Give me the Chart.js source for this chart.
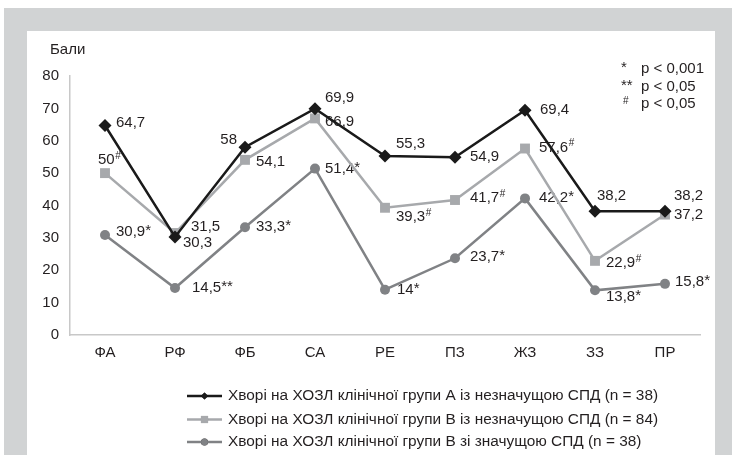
<!DOCTYPE html>
<html lang="uk">
<head>
  <meta charset="UTF-8" />
  <title>Бали</title>
  <script src="https://cdn.jsdelivr.net/npm/chart.js"></script>
  <style>
    html, body { margin: 0; padding: 0; background: #fff; }
    #wrap { width: 732px; height: 455px; position: relative; }
  </style>
</head>
<body>
  <div id="wrap"><canvas id="chart" width="732" height="455"></canvas></div>

  <script>
    const categories = ['ФА', 'РФ', 'ФБ', 'СА', 'РЕ', 'ПЗ', 'ЖЗ', 'ЗЗ', 'ПР'];
    const groupA = [64.7, 30.3, 58, 69.9, 55.3, 54.9, 69.4, 38.2, 38.2];
    const groupB = [50, 31.5, 54.1, 66.9, 39.3, 41.7, 57.6, 22.9, 37.2];
    const groupBsig = [30.9, 14.5, 33.3, 51.4, 14, 23.7, 42.2, 13.8, 15.8];
    // significance marks shown after each value
    const marksA = ['', '', '', '', '', '', '', '', ''];
    const marksB = ['#', '', '', '', '#', '#', '#', '#', ''];
    const marksBsig = ['*', '**', '*', '*', '*', '*', '*', '*', '*'];
    const seriesNames = [
      'Хворі на ХОЗЛ клінічної групи А із незначущою СПД (n = 38)',
      'Хворі на ХОЗЛ клінічної групи В із незначущою СПД (n = 84)',
      'Хворі на ХОЗЛ клінічної групи В зі значущою СПД (n = 38)'
    ];
    const notes = [['*', 'p < 0,001'], ['**', 'p < 0,05'], ['#', 'p < 0,05']];

    // label offsets from the point (dx, dy, align)
    const offA = [[11, -3], [8, 6], [-8, -7, 'right'], [10, -11], [11, -12], [15, 0], [15, 0], [2, -15], [9, -15]];
    const offB = [[-7, -13], [16, -6], [11, 2], [10, 3], [11, 9], [15, -2], [14, -1], [11, 2], [9, 0]];
    const offC = [[11, -3], [17, 0], [11, 0], [10, 0], [12, 0], [15, -1], [14, -1], [11, 7], [10, -2]];

    const FONT = '"Liberation Sans", Arial, sans-serif';
    const TXT = '#231f20';
    const FS = 15;

    function fmt(v) { return String(v).replace('.', ','); }

    const framePlugin = {
      id: 'frame',
      beforeDraw(chart) {
        const c = chart.ctx;
        c.save();
        c.fillStyle = '#d1d3d4';
        c.fillRect(4, 8, 728, 447);
        c.fillStyle = '#ffffff';
        c.fillRect(27, 31, 688, 424);
        c.fillStyle = TXT;
        c.font = FS + 'px ' + FONT;
        c.textBaseline = 'middle';
        c.textAlign = 'left';
        c.fillText('Бали', 50, 50);
        // significance notes
        const ys = [69, 87, 104];
        notes.forEach((n, i) => {
          if (n[0] === '#') {
            c.font = '10px ' + FONT;
            c.fillText(n[0], 623, ys[i] - 3);
          } else {
            c.font = FS + 'px ' + FONT;
            c.fillText(n[0], 621, ys[i] - 1);
          }
          c.font = FS + 'px ' + FONT;
          c.fillText(n[1], 641, ys[i]);
        });
        c.restore();
      },
      beforeDatasetsDraw(chart) {
        const c = chart.ctx;
        const offs = [offA, offB, offC];
        const marks = [marksA, marksB, marksBsig];
        c.save();
        c.fillStyle = TXT;
        c.textBaseline = 'middle';
        chart.data.datasets.forEach((ds, di) => {
          const meta = chart.getDatasetMeta(di);
          meta.data.forEach((pt, i) => {
            const o = offs[di][i];
            const main = fmt(ds.data[i]);
            const mark = marks[di][i];
            c.font = FS + 'px ' + FONT;
            const wMain = c.measureText(main).width;
            const sup = mark === '#';
            c.font = (sup ? '10px ' : FS + 'px ') + FONT;
            const wMark = mark ? c.measureText(mark).width : 0;
            let x = pt.x + o[0];
            const y = pt.y + o[1];
            if (o[2] === 'right') x -= wMain + wMark;
            c.textAlign = 'left';
            c.font = FS + 'px ' + FONT;
            c.fillText(main, x, y);
            if (mark) {
              c.font = (sup ? '10px ' : FS + 'px ') + FONT;
              c.fillText(mark, x + wMain + (sup ? 0.5 : 0), sup ? y - 4 : y - 1);
            }
          });
        });
        c.restore();
      },
      afterDraw(chart) {
        const c = chart.ctx;
        const rows = [396, 419.5, 442];
        c.save();
        chart.data.datasets.forEach((ds, i) => {
          const y = rows[i];
          c.strokeStyle = ds.borderColor;
          c.lineWidth = ds.borderWidth;
          c.beginPath();
          c.moveTo(187, y);
          c.lineTo(222, y);
          c.stroke();
          Chart.helpers.drawPoint(c, { pointStyle: ds.pointStyle, radius: ds.pointStyle === 'rect' ? 5 : 3.5, borderWidth: 0 }, 204.5, y);
          c.fillStyle = ds.pointBackgroundColor;
          c.fill();
          c.fillStyle = TXT;
          c.font = '15.4px ' + FONT;
          c.textAlign = 'left';
          c.textBaseline = 'middle';
          c.fillText(seriesNames[i], 228, y);
        });
        c.restore();
      }
    };

    const ctx = document.getElementById('chart').getContext('2d');
    new Chart(ctx, {
      type: 'line',
      data: {
        labels: categories,
        datasets: [
          {
            label: seriesNames[0], data: groupA,
            borderColor: '#1a1a1a', backgroundColor: '#1a1a1a',
            pointBackgroundColor: '#1a1a1a', pointBorderWidth: 0,
            borderWidth: 2.5, pointStyle: 'rectRot', pointRadius: 6.5, tension: 0
          },
          {
            label: seriesNames[1], data: groupB,
            borderColor: '#a7a9ac', backgroundColor: '#a7a9ac',
            pointBackgroundColor: '#a7a9ac', pointBorderWidth: 0,
            borderWidth: 2.5, pointStyle: 'rect', pointRadius: 7, tension: 0
          },
          {
            label: seriesNames[2], data: groupBsig,
            borderColor: '#808285', backgroundColor: '#808285',
            pointBackgroundColor: '#808285', pointBorderWidth: 0,
            borderWidth: 2.5, pointStyle: 'circle', pointRadius: 5, tension: 0
          }
        ]
      },
      options: {
        responsive: false,
        animation: false,
        layout: { padding: { left: 20, right: 32, top: 76, bottom: 0 } },
        plugins: {
          legend: { display: false },
          tooltip: { enabled: false }
        },
        scales: {
          x: {
            offset: true,
            grid: { display: false, drawTicks: false },
            border: { color: '#c8c8c8', width: 1.5 },
            ticks: { color: TXT, font: { family: FONT, size: FS }, padding: 9 },
            afterFit: (s) => { s.height = 120; }
          },
          y: {
            min: 0, max: 80,
            grid: { display: false, drawTicks: false },
            border: { color: '#c8c8c8', width: 1.5 },
            ticks: { stepSize: 10, color: TXT, font: { family: FONT, size: FS }, padding: 11 },
            afterFit: (s) => { s.width = 50; }
          }
        }
      },
      plugins: [framePlugin]
    });
  </script>
</body>
</html>
